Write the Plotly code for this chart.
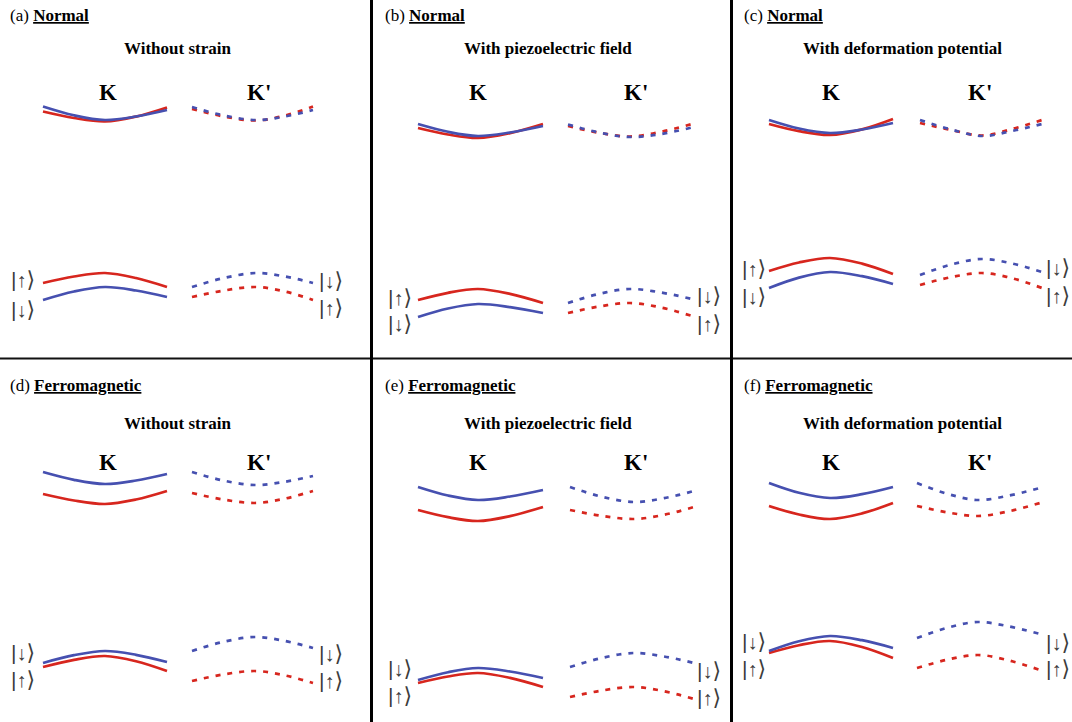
import plotly.graph_objects as go

# ---------------- data (page-wide axis, y grows downward) ----------------
# k-axis sample positions for the K and K' valleys of each panel
a_x_K = [43, 74, 105, 136, 167]
a_x_Kp = [192, 224, 256, 285, 313]
b_x_K = [418, 448, 478, 510, 543]
b_x_Kp = [568, 599, 630, 661, 692]
c_x_K = [769, 799, 830, 862, 893]
c_x_Kp = [920, 951, 982, 1012, 1042]
d_x_K = [43, 74, 105, 136, 167]
d_x_Kp = [192, 223, 255, 284, 313]
e_x_K = [418, 448, 478, 510, 543]
e_x_Kp = [570, 602, 634, 664, 694]
f_x_K = [769, 799, 830, 862, 893]
f_x_Kp = [917, 948, 978, 1008, 1040]

# conduction (upper) bands: blue = spin down, red = spin up
a_cb_K_blue = [106.5, 115.3, 120, 116.5, 110]
a_cb_K_red = [111.5, 118, 121.5, 116.6, 107.5]
a_cb_Kp_blue = [107, 115.5, 120, 116.5, 110]
a_cb_Kp_red = [109, 116.5, 120.5, 115.5, 106.5]
b_cb_K_blue = [124, 131.8, 136, 132.5, 126]
b_cb_K_red = [128, 134.5, 138, 133.1, 124]
b_cb_Kp_blue = [124.5, 132.5, 137, 134, 127.5]
b_cb_Kp_red = [126, 132.8, 136.5, 131.8, 124]
c_cb_K_blue = [120, 128.5, 133, 129.5, 123]
c_cb_K_red = [124, 131.2, 135, 129.4, 119]
c_cb_Kp_blue = [120, 129.5, 136, 131, 124]
c_cb_Kp_red = [123, 130, 135.5, 129, 120]
d_cb_K_blue = [472, 479.8, 484, 480.5, 474]
d_cb_K_red = [494, 500.5, 504, 499.5, 491]
d_cb_Kp_blue = [472, 480.5, 485, 481.9, 476]
d_cb_Kp_red = [493, 499.5, 503, 498.8, 491]
e_cb_K_blue = [487, 495.5, 500, 496.5, 490]
e_cb_K_red = [510, 517.2, 521, 516.1, 507]
e_cb_Kp_blue = [487, 496.8, 502, 498.2, 491]
e_cb_Kp_red = [510, 515.9, 519, 514.8, 507]
f_cb_K_blue = [483, 492.8, 498, 494.2, 487]
f_cb_K_red = [506, 514.5, 519, 513.4, 503]
f_cb_Kp_blue = [483, 494, 500, 495.8, 488]
f_cb_Kp_red = [506, 512.5, 516, 511.5, 503]

# valence (lower) bands
a_vb_K_red = [283, 276.5, 273, 278, 287]
a_vb_K_blue = [300, 291.5, 287, 290.5, 297]
a_vb_Kp_blue = [287, 278, 273, 276.5, 283]
a_vb_Kp_red = [297, 290.5, 287, 291.5, 300]
b_vb_K_red = [300, 292.8, 289, 293.9, 303]
b_vb_K_blue = [317, 308.5, 304, 307.1, 313]
b_vb_Kp_blue = [303, 293.9, 289, 292.5, 299]
b_vb_Kp_red = [313, 306.5, 303, 307.5, 316]
c_vb_K_red = [271, 262.5, 258, 263.6, 274]
c_vb_K_blue = [288, 277.6, 272, 276.2, 284]
c_vb_Kp_blue = [275, 264.6, 259, 263.5, 272]
c_vb_Kp_red = [285, 277.2, 273, 278.2, 288]
d_vb_K_red = [667, 659.8, 656, 661.2, 671]
d_vb_K_blue = [663, 655.2, 651, 654.8, 662]
d_vb_Kp_blue = [651, 641.9, 637, 640.8, 648]
d_vb_Kp_red = [681, 674.5, 671, 675.2, 683]
e_vb_K_red = [683, 676.5, 673, 677.9, 687]
e_vb_K_blue = [680, 672.2, 668, 671.5, 678]
e_vb_Kp_blue = [667, 657.9, 653, 656.5, 663]
e_vb_Kp_red = [697, 690.5, 687, 691.2, 699]
f_vb_K_red = [653, 645.2, 641, 647, 658]
f_vb_K_blue = [651, 641.2, 636, 640.2, 648]
f_vb_Kp_blue = [638, 627.6, 622, 626.2, 634]
f_vb_Kp_red = [668, 659.5, 655, 660.2, 670]

# text
panel_tags = ["(a)", "(b)", "(c)", "(d)", "(e)", "(f)"]
panel_orders = ["Normal", "Normal", "Normal", "Ferromagnetic", "Ferromagnetic", "Ferromagnetic"]
panel_titles = ["Without strain", "With piezoelectric field", "With deformation potential",
                "Without strain", "With piezoelectric field", "With deformation potential"]
valley_names = ["K", "K'"]
ket_left = [["↑", "↓"], ["↓", "↑"]]
ket_right = [["↓", "↑"], ["↓", "↑"]]

# ---------------- styling / placement ----------------
RED = "#d7261e"
BLUE = "#4650b0"
SERIF = "Liberation Serif, Times New Roman, serif"
KETFONT = "Liberation Sans, DejaVu Sans"

panels = [
    (a_x_K, a_x_Kp, a_cb_K_blue, a_cb_K_red, a_cb_Kp_blue, a_cb_Kp_red, a_vb_K_red, a_vb_K_blue, a_vb_Kp_blue, a_vb_Kp_red),
    (b_x_K, b_x_Kp, b_cb_K_blue, b_cb_K_red, b_cb_Kp_blue, b_cb_Kp_red, b_vb_K_red, b_vb_K_blue, b_vb_Kp_blue, b_vb_Kp_red),
    (c_x_K, c_x_Kp, c_cb_K_blue, c_cb_K_red, c_cb_Kp_blue, c_cb_Kp_red, c_vb_K_red, c_vb_K_blue, c_vb_Kp_blue, c_vb_Kp_red),
    (d_x_K, d_x_Kp, d_cb_K_blue, d_cb_K_red, d_cb_Kp_blue, d_cb_Kp_red, d_vb_K_red, d_vb_K_blue, d_vb_Kp_blue, d_vb_Kp_red),
    (e_x_K, e_x_Kp, e_cb_K_blue, e_cb_K_red, e_cb_Kp_blue, e_cb_Kp_red, e_vb_K_red, e_vb_K_blue, e_vb_Kp_blue, e_vb_Kp_red),
    (f_x_K, f_x_Kp, f_cb_K_blue, f_cb_K_red, f_cb_Kp_blue, f_cb_Kp_red, f_vb_K_red, f_vb_K_blue, f_vb_Kp_blue, f_vb_Kp_red),
]

fig = go.Figure()


def curve(x, y, color, dashed):
    fig.add_trace(go.Scatter(
        x=x, y=y, mode="lines", hoverinfo="skip", showlegend=False,
        line=dict(color=color, width=2.7, shape="spline", smoothing=1.0,
                  dash="5px,7px" if dashed else "solid")))


for (xK, xKp, cKb, cKr, cKpb, cKpr, vKr, vKb, vKpb, vKpr) in panels:
    curve(xK, cKr, RED, False)
    curve(xK, cKb, BLUE, False)
    curve(xKp, cKpr, RED, True)
    curve(xKp, cKpb, BLUE, True)
    curve(xK, vKr, RED, False)
    curve(xK, vKb, BLUE, False)
    curve(xKp, vKpr, RED, True)
    curve(xKp, vKpb, BLUE, True)

col_label_x = [8, 383, 742]
row_label_y = [15, 385]
col_title_x = [177, 548, 902]
row_title_y = [48, 423]
col_K_x = [108, 478, 831]
col_Kp_x = [259, 636, 980]
row_K_y = [92, 462]
col_ketL_x = [23, 400, 754]
col_ketR_x = [331, 709, 1058]
ketL_y = [[279, 309], [297, 323], [268, 296], [652, 679], [668, 695], [641, 668]]
ketR_y = [[280, 307], [295, 323], [267, 295], [653, 680], [670, 697], [642, 668]]


def ket(arrow):
    return ("<span style='font-size:21px'>|</span><b>" + arrow + "</b>"
            "<span style='font-family:DejaVu Sans;font-size:22px'>⟩</span>")


ann = []
for i in range(6):
    r, c = divmod(i, 3)
    ann.append(dict(x=col_label_x[c], y=row_label_y[r], xanchor="left", yanchor="middle",
                    text=f"{panel_tags[i]} <b><u>{panel_orders[i]}</u></b>",
                    font=dict(family=SERIF, size=17, color="black")))
    ann.append(dict(x=col_title_x[c], y=row_title_y[r], xanchor="center", yanchor="middle",
                    text=f"<b>{panel_titles[i]}</b>",
                    font=dict(family=SERIF, size=17, color="black")))
    ann.append(dict(x=col_K_x[c], y=row_K_y[r], xanchor="center", yanchor="middle",
                    text=f"<b>{valley_names[0]}</b>",
                    font=dict(family=SERIF, size=23, color="black")))
    ann.append(dict(x=col_Kp_x[c], y=row_K_y[r], xanchor="center", yanchor="middle",
                    text=f"<b>{valley_names[1]}</b>",
                    font=dict(family=SERIF, size=23, color="black")))
    for j in range(2):
        ann.append(dict(x=col_ketL_x[c], y=ketL_y[i][j], xanchor="center", yanchor="middle",
                        text=ket(ket_left[r][j]), font=dict(family=KETFONT, size=20, color="#3c3c3c")))
        ann.append(dict(x=col_ketR_x[c], y=ketR_y[i][j], xanchor="center", yanchor="middle",
                        text=ket(ket_right[r][j]), font=dict(family=KETFONT, size=20, color="#3c3c3c")))
for a in ann:
    a.update(xref="x", yref="y", showarrow=False)

shapes = [
    dict(type="line", xref="x", yref="y", x0=0, x1=1072, y0=358.5, y1=358.5,
         line=dict(color="#111111", width=2.2)),
    dict(type="line", xref="x", yref="y", x0=371.5, x1=371.5, y0=0, y1=722,
         line=dict(color="black", width=3)),
    dict(type="line", xref="x", yref="y", x0=731.5, x1=731.5, y0=0, y1=722,
         line=dict(color="black", width=3)),
]

fig.update_layout(
    width=1072, height=722, margin=dict(l=0, r=0, t=0, b=0),
    paper_bgcolor="white", plot_bgcolor="white",
    xaxis=dict(range=[0, 1072], visible=False, fixedrange=True),
    yaxis=dict(range=[722, 0], visible=False, fixedrange=True),
    annotations=ann, shapes=shapes,
)

fig.write_html("out.html", config={"displayModeBar": False},
               post_script="document.body.style.margin='0px';document.body.style.overflow='hidden';")
